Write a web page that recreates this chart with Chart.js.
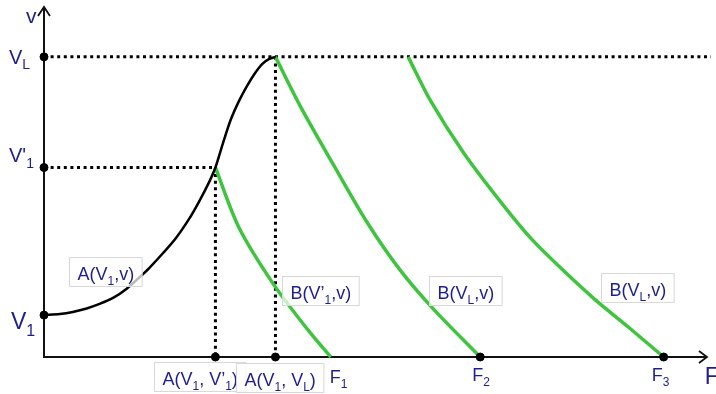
<!DOCTYPE html>
<html>
<head>
<meta charset="utf-8">
<script src="https://cdn.jsdelivr.net/npm/chart.js@4/dist/chart.umd.min.js"></script>
<style>
html,body{margin:0;padding:0;background:#fff;}
#wrap{width:716px;height:394px;position:relative;}
</style>
</head>
<body>
<div id="wrap"><canvas id="c"></canvas></div>
<script>
// ---- values (F on x, v on y; arbitrary units 0..100) ----
const V1 = 12.0, V1p = 54.3, VL = 86.0;
const F1 = 43.0, F2 = 65.4, F3 = 92.9;
const A_V1_V1p = 25.7, A_V1_VL = 34.7;
const B3_start = 54.6;

const curveA_F = [0, 2.38, 4.32, 6.40, 8.33, 10.42, 12.35, 14.29, 15.77, 17.86, 19.79, 21.73, 23.21, 24.70, A_V1_V1p, 26.79, 27.98, 29.17, 30.36, 31.55, 32.74, 33.78, A_V1_VL];
const curveA_v = [V1, 12.3, 12.9, 13.9, 15.2, 17.0, 19.5, 22.8, 25.5, 29.8, 34.1, 39.5, 44.4, 49.9, V1p, 61.0, 67.9, 73.1, 77.4, 81.1, 84.0, 85.4, VL];

const curveB1_F = [A_V1_V1p, 29.2, 34.5, 39.6, F1];
const curveB1_v = [V1p, 37.2, 20.6, 7.7, 0];

const curveB2_F = [A_V1_VL, 38.5, 43.6, 48.5, 53.4, 58.5, F2];
const curveB2_v = [VL, 71.6, 54.4, 38.4, 24.9, 13.5, 0];

const curveB3_F = [B3_start, 57.9, 62.9, 67.9, 72.8, 77.8, 82.7, 87.6, F3];
const curveB3_v = [VL, 73.6, 58.5, 45.8, 34.4, 24.9, 16.3, 8.6, 0];

const markerF = [0, 0, 0, A_V1_V1p, A_V1_VL, F2, F3];
const markerV = [V1, V1p, VL, 0, 0, 0, 0];

const zip = (xs, ys) => xs.map((x, i) => ({x: x, y: ys[i]}));

const NAVY = '#1e1e8c';
const GREEN = '#3ec43e';

// rich text: array of [text, isSub]
function richWidth(ctx, segs, size, family) {
  let w = 0;
  segs.forEach(s => {
    ctx.font = (s[1] ? Math.round(size * 0.68) : size) + 'px ' + family;
    w += ctx.measureText(s[0]).width;
  });
  return w;
}
function richDraw(ctx, segs, x, y, size, family) {
  ctx.textBaseline = 'alphabetic';
  ctx.textAlign = 'left';
  segs.forEach(s => {
    const fs = s[1] ? Math.round(size * 0.68) : size;
    ctx.font = fs + 'px ' + family;
    ctx.fillText(s[0], x, s[1] ? y + size * 0.28 : y);
    x += ctx.measureText(s[0]).width;
  });
}

const FAM = '"Liberation Sans", Arial, sans-serif';

const decor = {
  id: 'decor',
  beforeDatasetsDraw(chart) {
    const {ctx, scales: {x, y}} = chart;
    ctx.save();
    ctx.strokeStyle = '#111';
    ctx.lineWidth = 2;
    const x0 = x.getPixelForValue(0), y0 = y.getPixelForValue(0);
    const yTop = y.getPixelForValue(100.3);
    const xEnd = x.getPixelForValue(99.4);
    ctx.beginPath();
    ctx.moveTo(x0, y0); ctx.lineTo(x0, yTop);
    ctx.moveTo(x0 - 1, y0); ctx.lineTo(xEnd, y0);
    ctx.stroke();
    ctx.lineWidth = 1.8;
    ctx.beginPath();
    ctx.moveTo(x0 - 6, yTop + 9); ctx.lineTo(x0, yTop); ctx.lineTo(x0 + 6, yTop + 9);
    ctx.moveTo(xEnd - 8, y0 - 6); ctx.lineTo(xEnd, y0); ctx.lineTo(xEnd - 8, y0 + 6);
    ctx.stroke();
    ctx.restore();
  },
  afterDraw(chart) {
    const {ctx, scales: {x, y}} = chart;
    ctx.save();
    ctx.fillStyle = NAVY;
    const px = v => x.getPixelForValue(v), py = v => y.getPixelForValue(v);
    // axis labels
    richDraw(ctx, [['v', false]], px(0) - 18, py(100) + 15, 21, FAM);
    richDraw(ctx, [['V', false], ['L', true]], px(0) - 35, py(VL) + 7, 20, FAM);
    richDraw(ctx, [["V'", false], ['1', true]], px(0) - 35, py(V1p) - 5, 20, FAM);
    richDraw(ctx, [['V', false], ['1', true]], px(0) - 33, py(V1) + 14, 23, FAM);
    richDraw(ctx, [['F', false], ['1', true]], px(F1) - 1, py(0) + 26, 18, FAM);
    richDraw(ctx, [['F', false], ['2', true]], px(F2) - 8, py(0) + 24, 18, FAM);
    richDraw(ctx, [['F', false], ['3', true]], px(F3) - 12, py(0) + 24, 18, FAM);
    richDraw(ctx, [['F', false]], px(99.2) - 1, py(0) + 27, 23, FAM);

    // boxed labels
    const boxes = [
      {segs: [['A(V', false], ['1', true], [',v)', false]], cx: 9.2, cy: 24.5},
      {segs: [['B(V\u2019', false], ['1', true], [',v)', false]], cx: 41.4, cy: 19.1},
      {segs: [['B(V', false], ['L', true], [',v)', false]], cx: 63.1, cy: 19.1},
      {segs: [['B(V', false], ['L', true], [',v)', false]], cx: 88.9, cy: 19.8},
      {segs: [['A(V', false], ['1', true], [', V\u2019', false], ['1', true], [')', false]], cx: 23.4, cy: -5.7},
      {segs: [['A(V', false], ['1', true], [', V', false], ['L', true], [')', false]], cx: 35.3, cy: -5.9}
    ];
    const size = 18, h = 29;
    boxes.forEach(b => {
      const tw = richWidth(ctx, b.segs, size, FAM);
      const w = tw + 16;
      const cx = px(b.cx), cy = py(b.cy);
      const left = Math.round(cx - w / 2) + 0.5, top = Math.round(cy - h / 2) + 0.5;
      ctx.fillStyle = 'rgba(255,255,255,0.72)';
      ctx.fillRect(left, top, w, h);
      ctx.strokeStyle = '#d8d8d8';
      ctx.lineWidth = 1;
      ctx.strokeRect(left, top, w, h);
      ctx.fillStyle = NAVY;
      richDraw(ctx, b.segs, left + 8, top + 22, size, FAM);
    });
    ctx.restore();
  }
};

const dotted = {borderColor: '#000', borderWidth: 3, borderDash: [3, 3.6], pointRadius: 0, showLine: true, fill: false, clip: false};
const curve = {pointRadius: 0, showLine: true, tension: 0.3, clip: false};

new Chart(document.getElementById('c'), {
  type: 'scatter',
  data: {
    datasets: [
      {data: zip(markerF, markerV), pointRadius: 4, pointBackgroundColor: '#000', pointBorderColor: '#000', showLine: false, clip: false},
      Object.assign({data: zip(curveA_F, curveA_v), borderColor: '#000', borderWidth: 2.5}, curve),
      Object.assign({data: zip(curveB1_F, curveB1_v), borderColor: GREEN, borderWidth: 3.5}, curve),
      Object.assign({data: zip(curveB2_F, curveB2_v), borderColor: GREEN, borderWidth: 3.5}, curve),
      Object.assign({data: zip(curveB3_F, curveB3_v), borderColor: GREEN, borderWidth: 3.5}, curve),
      Object.assign({data: [{x: 0, y: VL}, {x: 100, y: VL}]}, dotted),
      Object.assign({data: [{x: 0, y: V1p}, {x: A_V1_V1p, y: V1p}]}, dotted),
      Object.assign({data: [{x: A_V1_V1p, y: V1p}, {x: A_V1_V1p, y: 0}]}, dotted),
      Object.assign({data: [{x: A_V1_VL, y: VL}, {x: A_V1_VL, y: 0}]}, dotted)
    ]
  },
  options: {
    responsive: true,
    maintainAspectRatio: false,
    animation: false,
    events: [],
    layout: {padding: {left: 44, right: 0, top: 8, bottom: 37}},
    plugins: {legend: {display: false}, tooltip: {enabled: false}},
    scales: {
      x: {type: 'linear', min: 0, max: 100, display: false},
      y: {type: 'linear', min: 0, max: 100, display: false}
    }
  },
  plugins: [decor]
});
</script>
</body>
</html>
